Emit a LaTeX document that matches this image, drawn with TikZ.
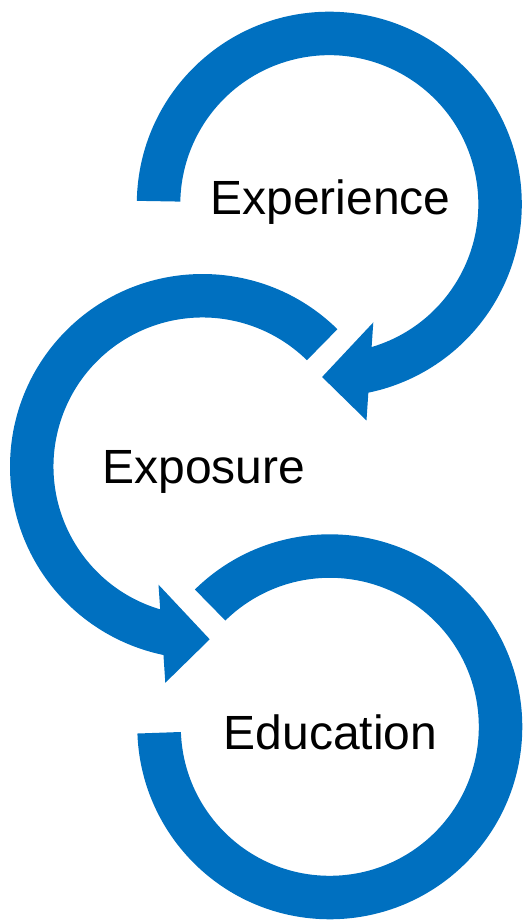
\documentclass[tikz,border=0pt]{standalone}
\usepackage{fontspec}
\setmainfont{Liberation Sans}
\usetikzlibrary{calc}
\definecolor{ringblue}{RGB}{0,112,192}
\tikzset{
  ring/.style={fill=ringblue, draw=none},
  steplabel/.style={inner sep=0pt, anchor=base, text=black,
    font=\fontsize{48}{58}\selectfont}
}
\begin{document}
\begin{tikzpicture}[x=1pt, y=1pt]
  \useasboundingbox (0,0) rectangle (523,922);
  \coordinate (C1) at (329.3,717.8);
  \coordinate (C2) at (202.5,455.5);
  \coordinate (C3) at (329.8,195.2);

  % first ring: clockwise from the left, arrow head at the bottom
  \begin{scope}[shift={(C1)}]
    \fill[ring] (179:192.5) arc[start angle=179, end angle=-78.3, radius=192.5]
      -- (37.2,-216.3) -- (-7.2,-172.8) -- (44,-118.2)
      -- (-73.5:149) arc[start angle=-73.5, end angle=179, radius=149] -- cycle;
  \end{scope}

  % second ring: counter-clockwise from the upper right, arrow head at the bottom
  \begin{scope}[shift={(C2)}]
    \fill[ring] (45.5:192.5) arc[start angle=45.5, end angle=258.3, radius=192.5]
      -- (-37.2,-216.3) -- (7.2,-172.8) -- (-44,-118.2)
      -- (253.5:149) arc[start angle=253.5, end angle=45.5, radius=149] -- cycle;
  \end{scope}

  % third ring: clockwise from the upper left, no head
  \begin{scope}[shift={(C3)}]
    \fill[ring] (134.5:192.5) arc[start angle=134.5, end angle=-178, radius=192.5]
      -- (-178:149) arc[start angle=-178, end angle=134.5, radius=149] -- cycle;
  \end{scope}

  \node[steplabel] (experience) at (330.5,707) {Experience};
  \node[steplabel] (exposure) at (203.9,438.7) {Exposure};
  \node[steplabel] (education) at (330.4,172.7) {Education};
\end{tikzpicture}
\end{document}
